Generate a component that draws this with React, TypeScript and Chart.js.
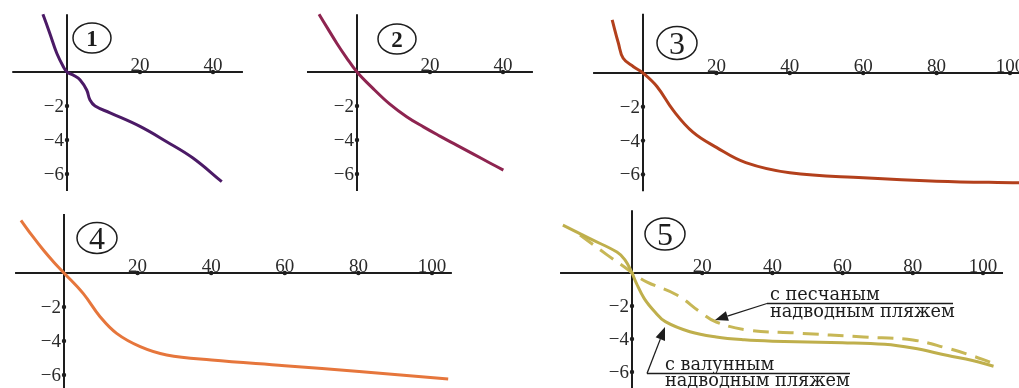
import React, { useEffect, useRef } from "react";
import { Chart, registerables } from "chart.js";

Chart.register(...registerables);

// ---------- data ----------
const xTicksShort = [20, 40];
const xTicksLong = [20, 40, 60, 80, 100];
const yTickValues = [-2, -4, -6];

const curve1X = [-6.6, -4.7, -2.8, -1.0, 0, 2.0, 3.6, 5.4, 6.3, 7.7, 11.8, 20, 27.3, 34.5, 42.4];
const curve1Y = [3.4, 2.27, 1.1, 0.31, 0, -0.22, -0.47, -1.06, -1.65, -2.0, -2.4, -3.2, -4.1, -5.06, -6.45];

const curve2X = [-10.4, -8, -5.5, -3, 0, 4.5, 9, 13.6, 18.2, 22.7, 27.3, 31.9, 36.4, 40.1];
const curve2Y = [3.4, 2.55, 1.68, 0.88, 0, -0.99, -1.89, -2.63, -3.23, -3.77, -4.3, -4.83, -5.35, -5.77];

const curve3X = [-8.4, -6.7, -5.4, -2.6, 0, 3.8, 8.2, 13.6, 20, 28, 40, 60, 80, 102.5];
const curve3Y = [3.14, 1.76, 0.87, 0.37, 0, -0.8, -2.2, -3.5, -4.4, -5.3, -5.9, -6.2, -6.4, -6.5];

const curve4X = [-11.7, -8.5, -5.5, -2.7, 0, 5.2, 9.8, 14.3, 20.7, 27.9, 40.1, 60, 80.2, 104.4];
const curve4Y = [3.1, 2.15, 1.32, 0.62, 0, -1.2, -2.57, -3.55, -4.33, -4.82, -5.12, -5.45, -5.8, -6.24];

const boulderX = [-19.7, -12, -4.3, -2, 0, 1.2, 3.5, 6.5, 9.5, 16.5, 24, 32, 40, 60, 72, 80, 90, 97, 103];
const boulderY = [2.9, 2.08, 1.27, 0.8, 0, -0.6, -1.55, -2.35, -2.95, -3.56, -3.88, -4.05, -4.13, -4.22, -4.32, -4.55, -5.0, -5.3, -5.65];

const sandX = [-14.8, -7.1, -1.1, 0, 4.3, 12.8, 19.4, 24, 32.7, 47, 66, 80, 89.7, 96.3, 102];
const sandY = [2.3, 1.1, 0.2, 0, -0.55, -1.33, -2.36, -2.97, -3.45, -3.64, -3.88, -4.06, -4.55, -4.97, -5.4];

const badgeLabels = ["1", "2", "3", "4", "5"];
const sandNote = ["с песчаным", "надводным пляжем"];
const boulderNote = ["с валунным", "надводным пляжем"];

// ---------- styles / layout ----------
const AXIS = "#1d1d1d";
const TEXT = "#2a2a2a";

type Series = { x: number[]; y: number[]; color: string; dash?: number[] };
type Badge = { text: string; cx: number; cy: number; rx: number; ry: number; font: string; dy: number };
type PanelCfg = {
  left: number; top: number; w: number; h: number;
  ox: number; oy: number; sx: number; sy: number;
  xAxis: [number, number]; yAxis: [number, number];
  xTicks: number[]; yTicks: number[];
  badge: Badge;
  series: Series[];
  notes?: boolean;
};

const smallBadge = 'bold 23px "Liberation Serif"';
const bigBadge = '32px "Liberation Serif"';

const panels: PanelCfg[] = [
  {
    left: 0, top: 0, w: 270, h: 200, ox: 67, oy: 72, sx: 3.65, sy: 17,
    xAxis: [-15, 48.2], yAxis: [3.4, -7.0], xTicks: xTicksShort, yTicks: yTickValues,
    badge: { text: badgeLabels[0], cx: 92, cy: 38, rx: 19, ry: 15, font: smallBadge, dy: 8 },
    series: [{ x: curve1X, y: curve1Y, color: "#4b1a66" }],
  },
  {
    left: 290, top: 0, w: 260, h: 200, ox: 67, oy: 72, sx: 3.65, sy: 17,
    xAxis: [-13.7, 48.2], yAxis: [3.4, -7.0], xTicks: xTicksShort, yTicks: yTickValues,
    badge: { text: badgeLabels[1], cx: 107, cy: 39, rx: 19, ry: 15, font: smallBadge, dy: 8 },
    series: [{ x: curve2X, y: curve2Y, color: "#8e2450" }],
  },
  {
    left: 580, top: 0, w: 439, h: 200, ox: 63, oy: 73, sx: 3.67, sy: 16.9,
    xAxis: [-13.6, 130], yAxis: [3.5, -7.0], xTicks: xTicksLong, yTicks: yTickValues,
    badge: { text: badgeLabels[2], cx: 97, cy: 43, rx: 20, ry: 16.5, font: bigBadge, dy: 11 },
    series: [{ x: curve3X, y: curve3Y, color: "#b3401c" }],
  },
  {
    left: 0, top: 200, w: 470, h: 188, ox: 64, oy: 73, sx: 3.68, sy: 17,
    xAxis: [-13.3, 105.4], yAxis: [3.47, -7.5], xTicks: xTicksLong, yTicks: yTickValues,
    badge: { text: badgeLabels[3], cx: 97, cy: 38, rx: 20, ry: 15.5, font: bigBadge, dy: 11 },
    series: [{ x: curve4X, y: curve4Y, color: "#e6763c" }],
  },
  {
    left: 550, top: 200, w: 469, h: 188, ox: 82, oy: 73, sx: 3.51, sy: 16.5,
    xAxis: [-20.5, 105.7], yAxis: [3.8, -7.5], xTicks: xTicksLong, yTicks: yTickValues,
    badge: { text: badgeLabels[4], cx: 115, cy: 34, rx: 20, ry: 16, font: bigBadge, dy: 11 },
    series: [
      { x: boulderX, y: boulderY, color: "#bfaf4c" },
      { x: sandX, y: sandY, color: "#c7b756", dash: [16, 9] },
    ],
    notes: true,
  },
];

function arrow(ctx: CanvasRenderingContext2D, x0: number, y0: number, x1: number, y1: number) {
  const ang = Math.atan2(y1 - y0, x1 - x0);
  const len = 13;
  const half = 5;
  const bx = x1 - Math.cos(ang) * len;
  const by = y1 - Math.sin(ang) * len;
  ctx.beginPath();
  ctx.moveTo(x0, y0);
  ctx.lineTo(bx, by);
  ctx.stroke();
  ctx.beginPath();
  ctx.moveTo(x1, y1);
  ctx.lineTo(bx + Math.sin(ang) * half, by - Math.cos(ang) * half);
  ctx.lineTo(bx - Math.sin(ang) * half, by + Math.cos(ang) * half);
  ctx.closePath();
  ctx.fill();
}

function fittedFont(ctx: CanvasRenderingContext2D, text: string, target: number, family: string) {
  ctx.font = `20px ${family}`;
  const w = ctx.measureText(text).width;
  const size = (20 * target) / w;
  return `${size.toFixed(2)}px ${family}`;
}

function makeDecor(cfg: PanelCfg) {
  return {
    id: "decor",
    beforeDatasetsDraw(chart: any) {
      const { ctx } = chart;
      const xs = chart.scales.x;
      const ys = chart.scales.y;
      const X = (v: number) => xs.getPixelForValue(v);
      const Y = (v: number) => ys.getPixelForValue(v);
      ctx.save();
      ctx.strokeStyle = AXIS;
      ctx.lineWidth = 2;
      ctx.beginPath();
      ctx.moveTo(X(cfg.xAxis[0]), Y(0));
      ctx.lineTo(X(cfg.xAxis[1]), Y(0));
      ctx.stroke();
      ctx.beginPath();
      ctx.moveTo(X(0), Y(cfg.yAxis[0]));
      ctx.lineTo(X(0), Y(cfg.yAxis[1]));
      ctx.stroke();

      ctx.fillStyle = AXIS;
      cfg.xTicks.forEach((t) => {
        ctx.beginPath();
        ctx.arc(X(t), Y(0), 2.2, 0, Math.PI * 2);
        ctx.fill();
      });
      cfg.yTicks.forEach((t) => {
        ctx.beginPath();
        ctx.arc(X(0), Y(t), 2.2, 0, Math.PI * 2);
        ctx.fill();
      });

      ctx.fillStyle = TEXT;
      ctx.font = '19px "Liberation Serif"';
      ctx.textAlign = "center";
      ctx.textBaseline = "alphabetic";
      cfg.xTicks.forEach((t) => ctx.fillText(String(t), X(t), Y(0) - 1));
      ctx.textAlign = "right";
      ctx.textBaseline = "middle";
      cfg.yTicks.forEach((t) => ctx.fillText((t < 0 ? "\u2212" : "") + Math.abs(t), X(0) - 3, Y(t) + 1));

      const b = cfg.badge;
      ctx.strokeStyle = AXIS;
      ctx.lineWidth = 1.5;
      ctx.beginPath();
      ctx.ellipse(b.cx, b.cy, b.rx, b.ry, 0, 0, Math.PI * 2);
      ctx.stroke();
      ctx.fillStyle = AXIS;
      ctx.font = b.font;
      ctx.textAlign = "center";
      ctx.textBaseline = "alphabetic";
      ctx.fillText(b.text, b.cx, b.cy + b.dy);
      ctx.restore();
    },
    afterDatasetsDraw(chart: any) {
      if (!cfg.notes) return;
      const { ctx } = chart;
      const fam = '"DejaVu Serif"';
      ctx.save();
      ctx.fillStyle = AXIS;
      ctx.strokeStyle = AXIS;
      ctx.lineWidth = 1.3;
      ctx.textAlign = "left";
      ctx.textBaseline = "alphabetic";
      const f = fittedFont(ctx, sandNote[1], 185, fam);
      ctx.font = f;
      ctx.fillText(sandNote[0], 220, 100);
      ctx.fillText(sandNote[1], 220, 117);
      ctx.beginPath();
      ctx.moveTo(217, 103.5);
      ctx.lineTo(403, 103.5);
      ctx.stroke();
      arrow(ctx, 217, 103.5, 165, 120);

      ctx.fillText(boulderNote[0], 115, 170);
      ctx.fillText(boulderNote[1], 115, 186);
      ctx.beginPath();
      ctx.moveTo(97, 173.5);
      ctx.lineTo(300, 173.5);
      ctx.stroke();
      arrow(ctx, 97, 173.5, 115, 127);
      ctx.restore();
    },
  };
}

function Panel({ cfg }: { cfg: PanelCfg }) {
  const ref = useRef<HTMLCanvasElement>(null);
  useEffect(() => {
    const canvas = ref.current;
    if (!canvas) return;
    const chart = new Chart(canvas, {
      type: "line",
      data: {
        datasets: cfg.series.map((s) => ({
          data: s.x.map((xv, i) => ({ x: xv, y: s.y[i] })),
          borderColor: s.color,
          borderWidth: 3,
          borderDash: s.dash || [],
          pointRadius: 0,
          fill: false,
          tension: 0.4,
          borderJoinStyle: "round" as const,
        })),
      },
      options: {
        responsive: false,
        animation: false,
        devicePixelRatio: 1,
        events: [],
        layout: { padding: 0 },
        plugins: { legend: { display: false }, tooltip: { enabled: false } },
        scales: {
          x: { type: "linear", display: false, min: -cfg.ox / cfg.sx, max: (cfg.w - cfg.ox) / cfg.sx },
          y: { type: "linear", display: false, min: -(cfg.h - cfg.oy) / cfg.sy, max: cfg.oy / cfg.sy },
        },
      },
      plugins: [makeDecor(cfg)],
    } as any);
    return () => chart.destroy();
  }, [cfg]);
  return (
    <canvas
      ref={ref}
      width={cfg.w}
      height={cfg.h}
      style={{ position: "absolute", left: cfg.left, top: cfg.top, width: cfg.w, height: cfg.h, display: "block" }}
    />
  );
}

export default function App() {
  return (
    <div style={{ position: "fixed", left: 0, top: 0, width: 1019, height: 388, background: "#ffffff", overflow: "hidden" }}>
      {panels.map((p, i) => (
        <Panel key={i} cfg={p} />
      ))}
    </div>
  );
}
